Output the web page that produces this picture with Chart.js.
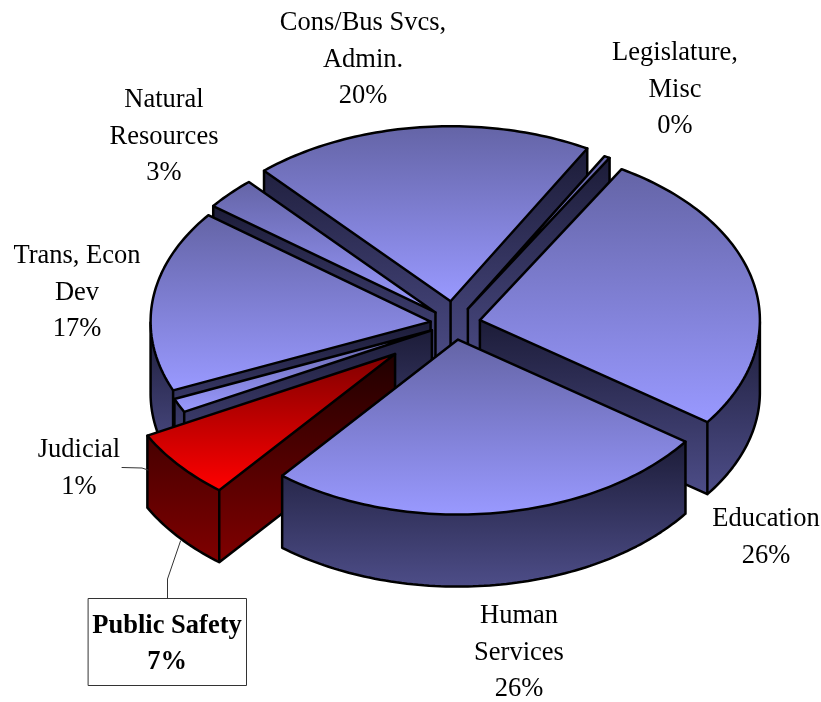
<!DOCTYPE html>
<html>
<head>
<meta charset="utf-8">
<style>html,body{margin:0;padding:0;background:#fff}canvas{display:block}</style>
<script src="https://cdn.jsdelivr.net/npm/chart.js@4"></script>
</head>
<body>
<canvas id="c" width="821" height="702"></canvas>
<script>
const categories = ["Education","Human Services","Public Safety","Judicial","Trans, Econ Dev","Natural Resources","Cons/Bus Svcs, Admin.","Legislature, Misc"];
const shares = [26.57, 26, 6.5, 1.3, 16.9, 3, 19.8, 0.33];
const percentLabels = ["26%","26%","7%","1%","17%","3%","20%","0%"];
const labelLines = [["Education"],["Human","Services"],["Public Safety"],["Judicial"],["Trans, Econ","Dev"],["Natural","Resources"],["Cons/Bus Svcs,","Admin."],["Legislature,","Misc"]];
const explode = [84, 84, 249, 81, 78, 84, 116, 87];
const labelAnchors = [[766,519],[519,616],[167,626],[79,450],[77,256],[164,100],[363,23],[675,53]];
const paintOrder = [6,7,5,0,4,3,2,1];

const centre = {x:454.5, y:323.5}, radius = 280, tilt = 0.625, depth = 72;
const FONT = '"Liberation Serif", "Times New Roman", serif';

const pie3d = {
  id:'pie3d',
  beforeDatasetDraw(chart){
    const ctx = chart.ctx, arcs = chart.getDatasetMeta(0).data;
    paintOrder.forEach(i=>{
      const a = arcs[i], k = radius/a.outerRadius;
      const off = (a.options.offset||0)/4*k;
      const mid = (a.startAngle+a.endAngle)/2;
      const ax = centre.x+Math.cos(mid)*off, ay = centre.y+Math.sin(mid)*off*tilt;
      const pt = t=>[ax+Math.cos(t)*radius, ay+Math.sin(t)*radius*tilt];
      const n = Math.max(4,Math.ceil((a.endAngle-a.startAngle)/0.02));
      const poly=[[ax,ay]];
      for(let j=0;j<=n;j++) poly.push(pt(a.startAngle+(a.endAngle-a.startAngle)*j/n));
      const m = poly.length, front=[];
      let wMin=1e9,wMax=-1e9;
      for(let j=0;j<m;j++){
        const p=poly[j],q=poly[(j+1)%m];
        const f=q[0]<p[0]-1e-6; front.push(f);
        if(f){wMin=Math.min(wMin,p[1],q[1]);wMax=Math.max(wMax,p[1]+depth,q[1]+depth);}
      }
      const red = i===2;
      if(wMax>wMin){
        const g=ctx.createLinearGradient(0,wMin,0,wMax);
        g.addColorStop(0,red?'#200000':'#1c1c38');
        g.addColorStop(1,red?'#800000':'#4d4d88');
        ctx.fillStyle=g;
        ctx.beginPath();
        for(let j=0;j<m;j++) if(front[j]){
          const p=poly[j],q=poly[(j+1)%m];
          ctx.moveTo(p[0],p[1]);ctx.lineTo(q[0],q[1]);
          ctx.lineTo(q[0],q[1]+depth);ctx.lineTo(p[0],p[1]+depth);ctx.closePath();
        }
        ctx.fill();
        ctx.strokeStyle=g;ctx.lineWidth=0.6;ctx.stroke();
        ctx.strokeStyle='#000';ctx.lineWidth=2.5;ctx.lineJoin='round';ctx.lineCap='round';
        ctx.beginPath();
        for(let j=0;j<m;j++) if(front[j]){
          const p=poly[j],q=poly[(j+1)%m];
          ctx.moveTo(p[0],p[1]+depth);ctx.lineTo(q[0],q[1]+depth);
        }
        for(let j=0;j<m;j++){
          const prev=front[(j-1+m)%m],cur=front[j];
          const corner = j===0||j===1||j===m-1;
          if((prev!==cur)||(corner&&(prev||cur))){
            const p=poly[j];
            ctx.moveTo(p[0],p[1]);ctx.lineTo(p[0],p[1]+depth);
          }
        }
        ctx.stroke();
      }
      const ys=poly.map(p=>p[1]);
      const tg=ctx.createLinearGradient(0,Math.min(...ys),0,Math.max(...ys));
      tg.addColorStop(0,red?'#800000':'#6464a6');
      tg.addColorStop(1,red?'#ff0000':'#9999ff');
      ctx.beginPath();
      poly.forEach((p,j)=>j?ctx.lineTo(p[0],p[1]):ctx.moveTo(p[0],p[1]));
      ctx.closePath();
      ctx.fillStyle=tg;ctx.fill();
      ctx.strokeStyle='#000';ctx.lineWidth=2.5;ctx.lineJoin='round';ctx.stroke();
    });
    return false;
  },
  afterDraw(chart){
    const ctx=chart.ctx;
    ctx.strokeStyle='#333';ctx.lineWidth=1;
    ctx.beginPath();
    ctx.moveTo(122,467.5);ctx.lineTo(142,468);ctx.lineTo(148,470);
    ctx.moveTo(180.5,541);ctx.lineTo(167.5,579);ctx.lineTo(167.5,598);
    ctx.stroke();
    ctx.fillStyle='#fff';ctx.fillRect(88,598,159,88);
    ctx.strokeRect(88.5,598.5,158,87);
    ctx.textAlign='center';ctx.textBaseline='middle';ctx.fillStyle='#000';
    categories.forEach((_,i)=>{
      const [x,y]=labelAnchors[i];
      ctx.font=(i===2?'bold ':'')+'26.5px '+FONT;
      const lines=[...labelLines[i],percentLabels[i]];
      lines.forEach((s,l)=>ctx.fillText(s,x,y+l*36.6));
    });
  }
};

new Chart(document.getElementById('c'),{
  type:'pie',
  data:{labels:categories,datasets:[{data:shares,offset:explode,backgroundColor:'#9999ff',borderWidth:0}]},
  options:{
    responsive:false,animation:false,rotation:30.4,
    layout:{padding:0},
    plugins:{legend:{display:false},tooltip:{enabled:false}}
  },
  plugins:[pie3d]
});
</script>
</body>
</html>
